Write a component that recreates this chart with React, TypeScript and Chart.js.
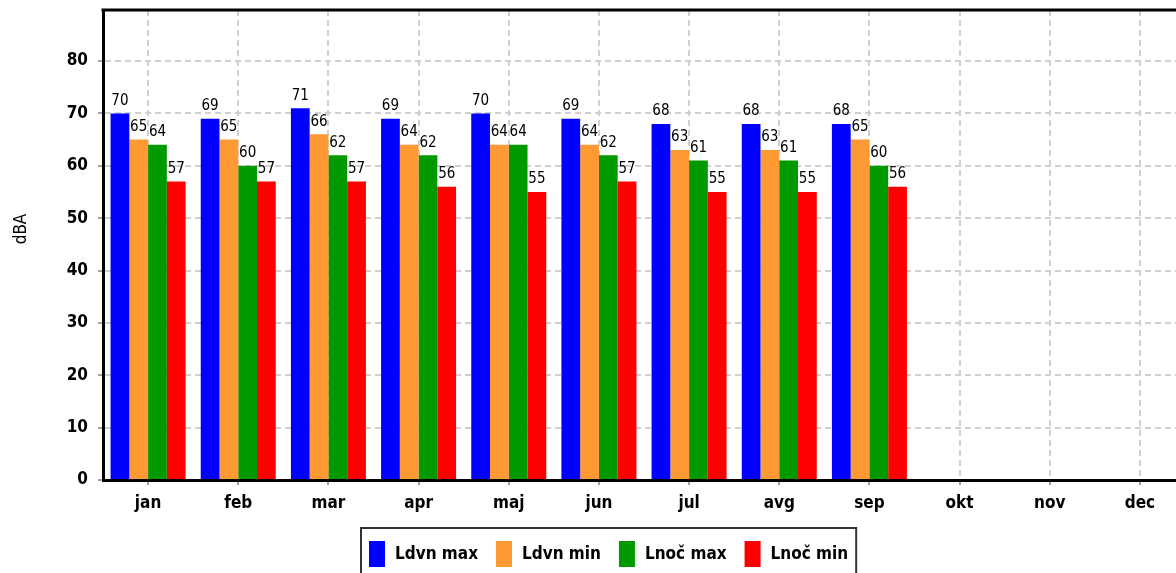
import React, { useEffect, useRef } from "react";
import { Chart, registerables } from "chart.js";

Chart.register(...registerables);

const categories = ["jan", "feb", "mar", "apr", "maj", "jun", "jul", "avg", "sep", "okt", "nov", "dec"];
const ldvnMax = [70, 69, 71, 69, 70, 69, 68, 68, 68, null, null, null];
const ldvnMin = [65, 65, 66, 64, 64, 64, 63, 63, 65, null, null, null];
const lnocMax = [64, 60, 62, 62, 64, 62, 61, 61, 60, null, null, null];
const lnocMin = [57, 57, 57, 56, 55, 57, 55, 55, 56, null, null, null];
const seriesLabels = ["Ldvn max", "Ldvn min", "Lnoč max", "Lnoč min"];
const seriesColors = ["#0000ff", "#ff9933", "#009900", "#ff0000"];
const yTicks = [0, 10, 20, 30, 40, 50, 60, 70, 80];
const yTitle = "dBA";

const FAMILY = '"DejaVu Sans Condensed", "DejaVu Sans", sans-serif';

const extrasPlugin = {
  id: "extras",
  afterDatasetsDraw(chart: any) {
    const ctx = chart.ctx;
    ctx.save();
    ctx.font = `15px ${FAMILY}`;
    ctx.fillStyle = "#000";
    ctx.textAlign = "center";
    ctx.textBaseline = "bottom";
    chart.data.datasets.forEach((ds: any, i: number) => {
      const meta = chart.getDatasetMeta(i);
      meta.data.forEach((el: any, j: number) => {
        const v = ds.data[j];
        if (v === null || v === undefined) return;
        ctx.fillText(String(v), el.x, el.y - 5);
      });
    });
    ctx.restore();
  },
  afterDraw(chart: any) {
    const ctx = chart.ctx;
    const a = chart.chartArea;
    ctx.save();
    // top frame line
    ctx.strokeStyle = "#000";
    ctx.lineWidth = 3;
    ctx.beginPath();
    ctx.moveTo(a.left - 1.5, a.top);
    ctx.lineTo(a.right, a.top);
    ctx.stroke();

    // y title
    ctx.save();
    ctx.translate(22, 229);
    ctx.rotate(-Math.PI / 2);
    ctx.font = `17px ${FAMILY}`;
    ctx.fillStyle = "#000";
    ctx.textAlign = "center";
    ctx.textBaseline = "middle";
    ctx.fillText(yTitle, 0, 0);
    ctx.restore();

    // legend
    ctx.font = `bold 17px ${FAMILY}`;
    const widths = seriesLabels.map((l) => ctx.measureText(l).width);
    const pad = 8, box = 16, gap = 10, between = 18;
    const total = pad * 2 + widths.reduce((s, w) => s + box + gap + w, 0) + between * (seriesLabels.length - 1);
    const left = Math.round(608.5 - total / 2);
    const top = 528;
    ctx.strokeStyle = "#333";
    ctx.lineWidth = 2;
    ctx.strokeRect(left, top, total, 70);
    let x = left + pad;
    seriesLabels.forEach((l, i) => {
      ctx.fillStyle = seriesColors[i];
      ctx.fillRect(x, 541, box, 26);
      x += box + gap;
      ctx.fillStyle = "#000";
      ctx.textAlign = "left";
      ctx.textBaseline = "middle";
      ctx.fillText(l, x, 555);
      x += widths[i] + between;
    });
    ctx.restore();
  },
};

export default function App() {
  const ref = useRef<HTMLCanvasElement>(null);
  useEffect(() => {
    if (!ref.current) return;
    const mk = (label: string, data: (number | null)[], color: string) => ({
      label,
      data,
      backgroundColor: color,
      borderWidth: 0,
      barPercentage: 1,
      categoryPercentage: 0.832,
    });
    const gridOpts = {
      color: "#d0d0d0",
      lineWidth: 2,
      drawTicks: true,
      tickLength: 5,
      tickColor: "#444",
      tickBorderDash: [],
      tickWidth: 1,
    };
    const chart = new Chart(ref.current, {
      type: "bar",
      data: {
        labels: categories,
        datasets: [
          mk(seriesLabels[0], ldvnMax, seriesColors[0]),
          mk(seriesLabels[1], ldvnMin, seriesColors[1]),
          mk(seriesLabels[2], lnocMax, seriesColors[2]),
          mk(seriesLabels[3], lnocMin, seriesColors[3]),
        ],
      },
      options: {
        responsive: false,
        animation: false,
        devicePixelRatio: 1,
        layout: { padding: { top: 10, right: 15, left: 0, bottom: 0 } },
        plugins: { legend: { display: false }, tooltip: { enabled: false } },
        scales: {
          x: {
            offset: true,
            grid: { ...gridOpts, offset: false },
            border: { color: "#000", width: 3, dash: [6, 4] },
            ticks: {
              color: "#000",
              padding: 8,
              font: { family: FAMILY, size: 17, weight: "bold" },
            },
            afterFit(scale: any) {
              scale.height = 110;
              scale.paddingLeft = 0;
              scale.paddingRight = 0;
            },
          },
          y: {
            min: 0,
            max: 89.75,
            afterBuildTicks(scale: any) {
              scale.ticks = yTicks.map((v) => ({ value: v }));
            },
            grid: gridOpts,
            border: { color: "#000", width: 3, dash: [6, 4] },
            ticks: {
              color: "#000",
              padding: 10,
              font: { family: FAMILY, size: 17, weight: "bold" },
            },
            afterFit(scale: any) {
              scale.width = 103;
              scale.paddingTop = 0;
              scale.paddingBottom = 0;
            },
          },
        },
      },
      plugins: [extrasPlugin],
    } as any);
    return () => chart.destroy();
  }, []);
  return (
    <div style={{ position: "fixed", left: 0, top: 0, width: 1176, height: 573, overflow: "hidden", background: "#fff" }}>
      <canvas ref={ref} width={1200} height={590} style={{ display: "block" }} />
    </div>
  );
}
